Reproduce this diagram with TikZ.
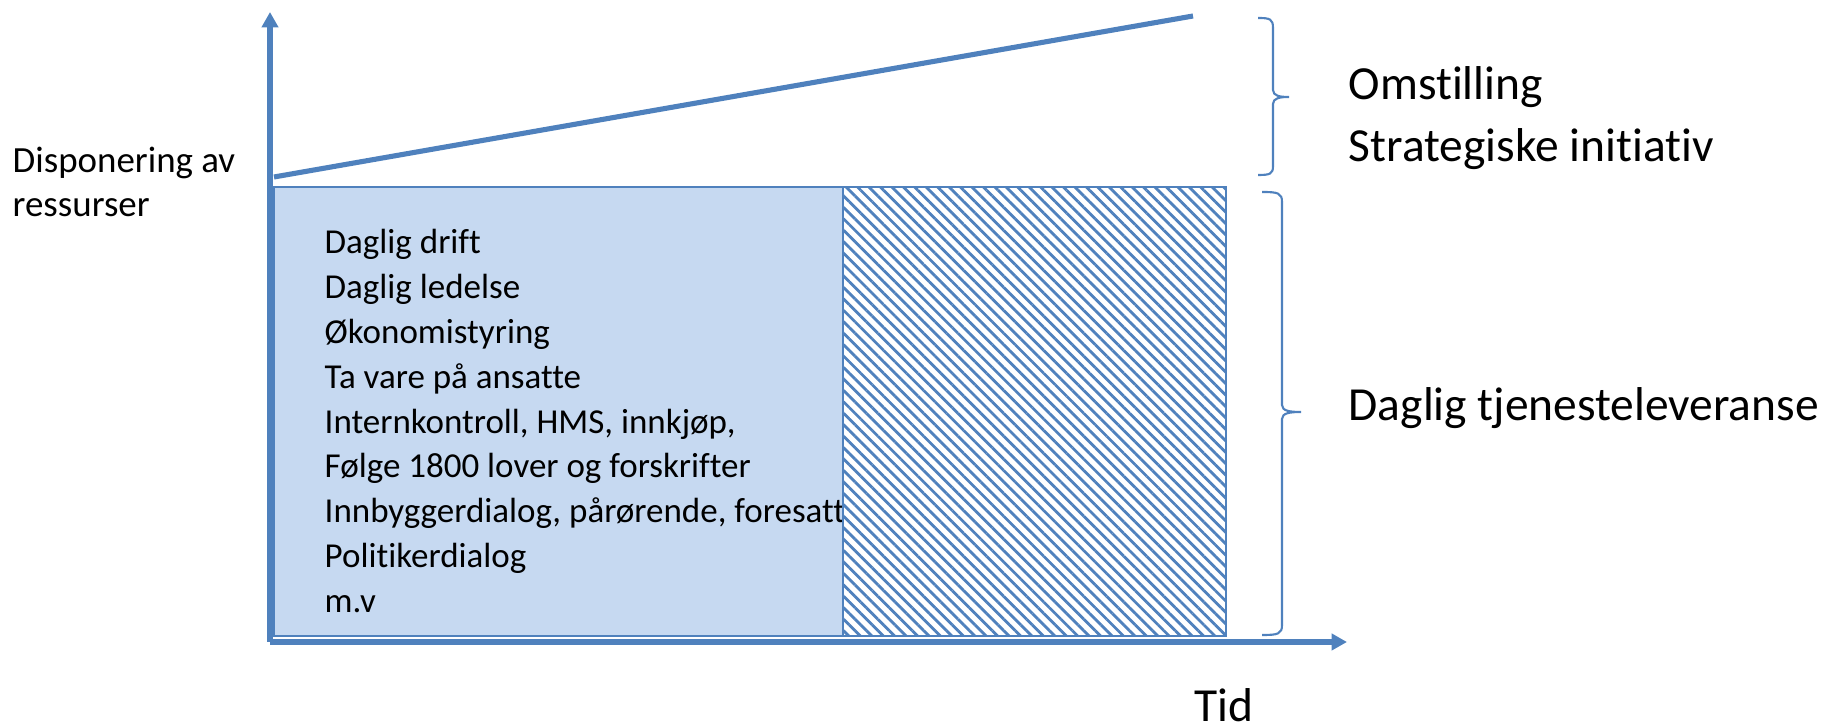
\documentclass[tikz,border=0pt]{standalone}
\usepackage{fontspec}
\setmainfont{Carlito}[RawFeature=-liga]
\usetikzlibrary{arrows.meta,patterns.meta}
\definecolor{axisblue}{HTML}{4F81BD}
\definecolor{boxfill}{HTML}{C6D9F1}
\tikzset{
  axis/.style={line width=1.45pt, axisblue, -{Triangle[length=4.4pt,width=4.6pt]}},
  brace/.style={line width=0.6pt, axisblue},
  bigtext/.style={font=\fontsize{13.5}{17.6}\selectfont, inner sep=0pt, anchor=west, align=left},
}

\begin{document}
\begin{tikzpicture}[x=0.01cm, y=-0.01cm]
  \useasboundingbox (0,0) rectangle (1830,725);
  % Daily work box
  \filldraw[fill=boxfill, draw=axisblue, line width=0.55pt] (274,187) rectangle (1226,636);
  \node[anchor=west, align=left, inner sep=0pt, font=\fontsize{9.95}{12.73}\selectfont] (tasks) at (324,421)
    {Daglig drift\\Daglig ledelse\\Økonomistyring\\Ta vare på ansatte\\Internkontroll, HMS, innkjøp,\\
     Følge 1800 lover og forskrifter\\Innbyggerdialog, pårørende, foresatte\\Politikerdialog\\m.v};
  % Hatched part
  \fill[white] (843,187) rectangle (1226,636);
  \draw[axisblue, line width=0.55pt, pattern={Lines[angle=-45,distance=2.3pt,line width=0.8pt]},
        pattern color=axisblue] (843,187) rectangle (1226,636);
  % Axes
  \coordinate (origo) at (270,642);
  \coordinate (ytop) at (270,12);
  \coordinate (xend) at (1347,642);
  \draw[axis] (origo) -- (ytop);
  \draw[axis] (origo) -- (xend);
  % Rising line
  \coordinate (trendstart) at (274,177);
  \coordinate (trendend) at (1193,16);
  \draw[line width=1.45pt, axisblue] (trendstart) -- (trendend);
  % Braces
  \draw[brace] (1258,18) .. controls (1270,18) and (1273,19) .. (1273,28) -- (1273,90)
    .. controls (1273,96) and (1280,97) .. (1289,97) .. controls (1280,97) and (1273,98) .. (1273,104)
    -- (1273,166) .. controls (1273,174) and (1270,175) .. (1258,175);
  \draw[brace] (1262,192) .. controls (1278,192) and (1282,193) .. (1282,202) -- (1282,405)
    .. controls (1282,411) and (1290,412) .. (1301,412) .. controls (1290,412) and (1282,413) .. (1282,419)
    -- (1282,625) .. controls (1282,634) and (1278,635) .. (1262,635);
  % Labels
  \node[bigtext] (omstilling) at (1348,118) {Omstilling\\Strategiske initiativ};
  \node[bigtext] (leveranse) at (1348,408) {Daglig tjenesteleveranse};
  \node[font=\fontsize{13.5}{17.6}\selectfont, inner sep=0pt] (tid) at (1224,705) {Tid};
  \node[anchor=west, align=left, inner sep=0pt, font=\fontsize{10.5}{12.5}\selectfont] (ressurser) at (12,182)
    {Disponering av\\ressurser};
\end{tikzpicture}
\end{document}
